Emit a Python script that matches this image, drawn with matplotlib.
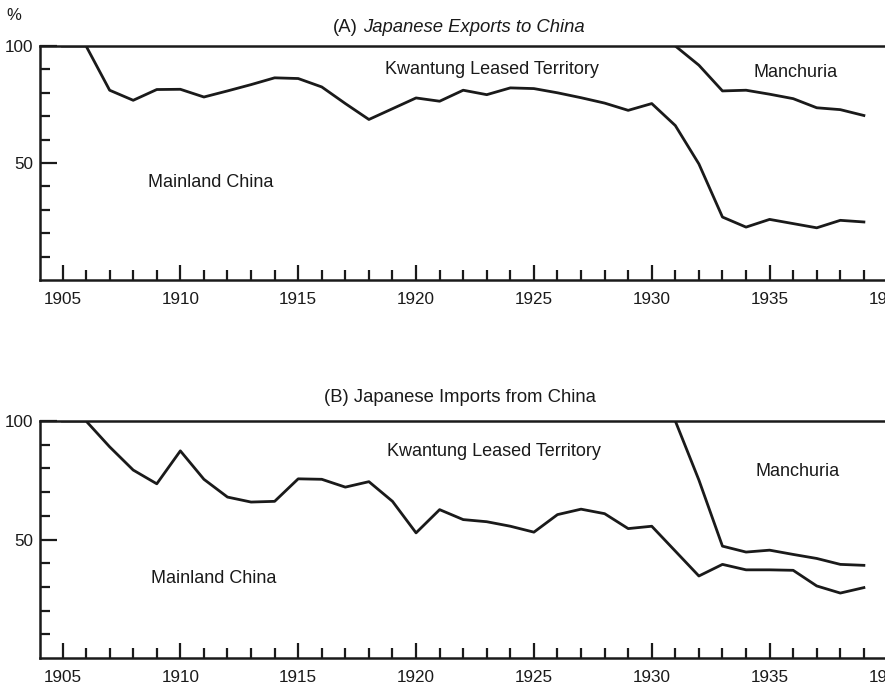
import matplotlib.pyplot as plt
from matplotlib.ticker import MultipleLocator

# Années (1905 - 1939)
years = list(range(1905, 1940))
years_manchuria = list(range(1931, 1940))

# (A) Exportations : limite Chine continentale / Kwantung (en % cumulés)
exports_mainland = [100, 100, 81.1, 76.8, 81.4, 81.5, 78.2, 80.8, 83.5, 86.4,
                    86.1, 82.5, 75.4, 68.6, 73.2, 77.8, 76.4, 81.1, 79.2, 82.1,
                    81.8, 80.0, 77.9, 75.6, 72.5, 75.4, 66.0, 49.6, 26.9, 22.6,
                    25.9, 24.1, 22.3, 25.5, 24.8]
# limite Kwantung / Mandchourie
exports_manchuria = [100, 91.8, 80.8, 81.1, 79.4, 77.5, 73.6, 72.8, 70.3]

# (B) Importations
imports_mainland = [100, 100, 89.1, 79.3, 73.5, 87.4, 75.4, 67.9, 65.8, 66.1,
                    75.6, 75.4, 72.1, 74.4, 66.1, 52.8, 62.6, 58.4, 57.5, 55.6,
                    53.1, 60.5, 62.8, 60.9, 54.6, 55.6, 45.1, 34.6, 39.5, 37.2,
                    37.2, 37.0, 30.4, 27.4, 29.7]
imports_manchuria = [100, 75.1, 47.2, 44.7, 45.5, 43.7, 42.0, 39.5, 39.1]

region_labels = ["Kwantung Leased Territory", "Manchuria", "Mainland China"]

plt.rcParams["font.family"] = ["Liberation Sans", "DejaVu Sans"]
ink = "#1a1a1a"

fig = plt.figure(figsize=(8.85, 6.87), dpi=100)

W, H = 885, 687
x_left_px, x_right_px = 40, 900
year_left = 1905 - 22.5 / 23.57
year_right = 1905 + (x_right_px - 62.5) / 23.57


def make_axes(top_px, bottom_px):
    ax = fig.add_axes([x_left_px / W, 1 - bottom_px / H,
                       (x_right_px - x_left_px) / W, (bottom_px - top_px) / H])
    ax.set_xlim(year_left, year_right)
    ax.set_ylim(0, 100)
    ax.spines["right"].set_visible(False)
    for s in ["left", "bottom", "top"]:
        ax.spines[s].set_linewidth(1.8)
        ax.spines[s].set_color(ink)
    ax.set_xticks(range(1905, 1945, 5))
    ax.xaxis.set_minor_locator(MultipleLocator(1))
    ax.set_yticks([50, 100])
    ax.set_yticks([10, 20, 30, 40, 60, 70, 80, 90], minor=True)
    ax.tick_params(axis="both", which="both", direction="in", width=1.6,
                   color=ink, labelcolor=ink, labelsize=12.3)
    ax.tick_params(axis="x", which="major", length=11, pad=8.5)
    ax.tick_params(axis="x", which="minor", length=7)
    ax.tick_params(axis="y", which="major", length=12, pad=5)
    ax.tick_params(axis="y", which="minor", length=7)
    ax.tick_params(top=False, right=False)
    return ax


ax1 = make_axes(46, 280)
ax2 = make_axes(421, 658)

# Courbes
ax1.plot(years, exports_mainland, color=ink, lw=2)
ax1.plot(years_manchuria, exports_manchuria, color=ink, lw=2)
ax2.plot(years, imports_mainland, color=ink, lw=2)
ax2.plot(years_manchuria, imports_manchuria, color=ink, lw=2)

# Étiquettes des zones
ax1.text(1923.2, 90, region_labels[0], fontsize=13, ha="center", va="center", color=ink)
ax1.text(1936.1, 88.5, region_labels[1], fontsize=13, ha="center", va="center", color=ink)
ax1.text(1911.3, 41.5, region_labels[2], fontsize=13, ha="center", va="center", color=ink)
ax2.text(1923.3, 87, region_labels[0], fontsize=13, ha="center", va="center", color=ink)
ax2.text(1936.2, 78.5, region_labels[1], fontsize=13, ha="center", va="center", color=ink)
ax2.text(1911.4, 33.5, region_labels[2], fontsize=13, ha="center", va="center", color=ink)

# Titres : "(A)" droit, le reste en italique
fig.text(333 / W, 1 - 27 / H, "(A)", fontsize=13.3, ha="left", va="center", color=ink)
fig.text(363 / W, 1 - 27 / H, "Japanese Exports to China", fontsize=13.3,
         style="italic", ha="left", va="center", color=ink)
fig.text(460 / W, 1 - 398 / H, "(B) Japanese Imports from China", fontsize=13.3,
         ha="center", va="center", color=ink)
fig.text(14 / W, 1 - 15 / H, "%", fontsize=12, ha="center", va="center", color=ink)

fig.savefig("out.png", dpi=100)
